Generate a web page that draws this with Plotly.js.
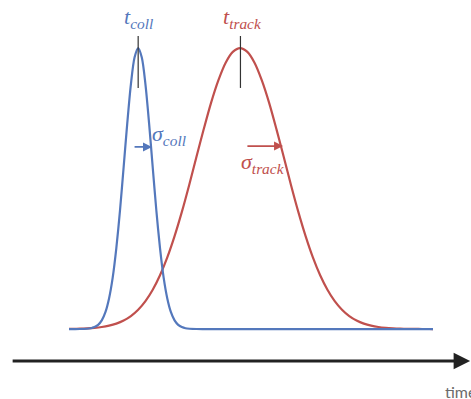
<!DOCTYPE html>
<html><head><meta charset="utf-8">
<script src="https://cdn.plot.ly/plotly-3.0.1.min.js"></script>
<style>html,body{margin:0;padding:0;background:#fff}#chart{width:471px;height:399px}</style>
</head><body><div id="chart"></div>
<script>
// time values (arbitrary units) and read-off amplitudes (peak = 1)
const collTime = [0, 3, 6, 7, 8, 9, 10, 11, 12, 13, 14, 15, 16, 17, 18, 19, 20, 21, 22, 23, 24, 25, 26, 27, 28, 29, 30, 31, 32, 35, 40, 100];
const collAmp  = [0, 0.0001, 0.0029, 0.0068, 0.015, 0.031, 0.060, 0.109, 0.183, 0.288, 0.421, 0.575, 0.732, 0.871, 0.966, 1.0, 0.966, 0.871, 0.732, 0.575, 0.421, 0.288, 0.183, 0.109, 0.060, 0.031, 0.015, 0.0068, 0.0029, 0.0001, 0, 0];
const trackTime = [0, 1, 3, 5, 7, 9, 11, 13, 15, 17, 19, 21, 23, 25, 27, 29, 31, 33, 35, 37, 39, 41, 43, 45, 47, 49, 51, 53, 55, 57, 59, 61, 63, 65, 67, 69, 71, 73, 75, 77, 79, 81, 83, 85, 87, 89, 91, 93, 95, 97, 99, 100];
const trackAmp  = [0.0005, 0.0007, 0.0013, 0.0024, 0.0042, 0.0072, 0.012, 0.0193, 0.0303, 0.0462, 0.0687, 0.0994, 0.140, 0.1915, 0.255, 0.3307, 0.417, 0.512, 0.612, 0.7107, 0.804, 0.884, 0.947, 0.9864, 1.0, 0.9864, 0.947, 0.884, 0.804, 0.7107, 0.612, 0.512, 0.417, 0.3307, 0.255, 0.1915, 0.140, 0.0994, 0.0687, 0.0462, 0.0303, 0.0193, 0.012, 0.0072, 0.0042, 0.0024, 0.0013, 0.0007, 0.0004, 0.0002, 0.0001, 0];
const labels = {coll: '<i>t<sub>coll</sub></i>', track: '<i>t<sub>track</sub></i>', sColl: '<i>σ<sub>coll</sub></i>', sTrack: '<i>σ<sub>track</sub></i>', axis: 'time'};

const blue = '#5478bc', red = '#c0504d';

const traces = [
  {x: trackTime, y: trackAmp, mode: 'lines', line: {color: red, width: 2.2, shape: 'spline', smoothing: 0.8}, hoverinfo: 'skip'},
  {x: collTime, y: collAmp, mode: 'lines', line: {color: blue, width: 2.2, shape: 'spline', smoothing: 0.8}, hoverinfo: 'skip'}
];

const serif = 'Liberation Serif, DejaVu Serif, serif';
const layout = {
  width: 471, height: 399,
  margin: {l: 0, r: 0, t: 0, b: 0},
  paper_bgcolor: '#fff', plot_bgcolor: '#fff',
  showlegend: false,
  xaxis: {range: [-18.96, 110.44], visible: false, fixedrange: true},
  yaxis: {range: [-0.249, 1.171], visible: false, fixedrange: true},
  shapes: [
    {type: 'line', x0: 19, x1: 19, y0: 0.858, y1: 1.043, line: {color: '#333', width: 1.2}},
    {type: 'line', x0: 47.1, x1: 47.1, y0: 0.858, y1: 1.043, line: {color: '#333', width: 1.2}}
  ],
  annotations: [
    {x: 110.2, y: -0.114, ax: -15.9, ay: -0.114, axref: 'x', ayref: 'y', xref: 'x', yref: 'y', text: '', showarrow: true, arrowhead: 2, arrowsize: 1.1, arrowwidth: 3, arrowcolor: '#222'},
    {x: 22.8, y: 0.648, ax: 17.6, ay: 0.648, axref: 'x', ayref: 'y', text: '', showarrow: true, arrowhead: 2, arrowsize: 1, arrowwidth: 1.8, arrowcolor: blue},
    {x: 58.8, y: 0.651, ax: 48.6, ay: 0.651, axref: 'x', ayref: 'y', text: '', showarrow: true, arrowhead: 2, arrowsize: 1, arrowwidth: 1.8, arrowcolor: red},
    {x: 19.2, y: 1.107, text: labels.coll, showarrow: false, xanchor: 'center', yanchor: 'middle', font: {family: serif, size: 22, color: blue}},
    {x: 47.6, y: 1.107, text: labels.track, showarrow: false, xanchor: 'center', yanchor: 'middle', font: {family: serif, size: 22, color: red}},
    {x: 22.3, y: 0.69, text: labels.sColl, showarrow: false, xanchor: 'left', yanchor: 'middle', font: {family: serif, size: 22, color: blue}},
    {x: 46.6, y: 0.59, text: labels.sTrack, showarrow: false, xanchor: 'left', yanchor: 'middle', font: {family: serif, size: 22, color: red}},
    {x: 102.7, y: -0.221, text: labels.axis, showarrow: false, xanchor: 'left', yanchor: 'middle', font: {family: 'Lato, Open Sans, sans-serif', size: 16, color: '#6b6b6b'}}
  ]
};
Plotly.newPlot('chart', traces, layout, {staticPlot: true, displayModeBar: false});
</script></body></html>
